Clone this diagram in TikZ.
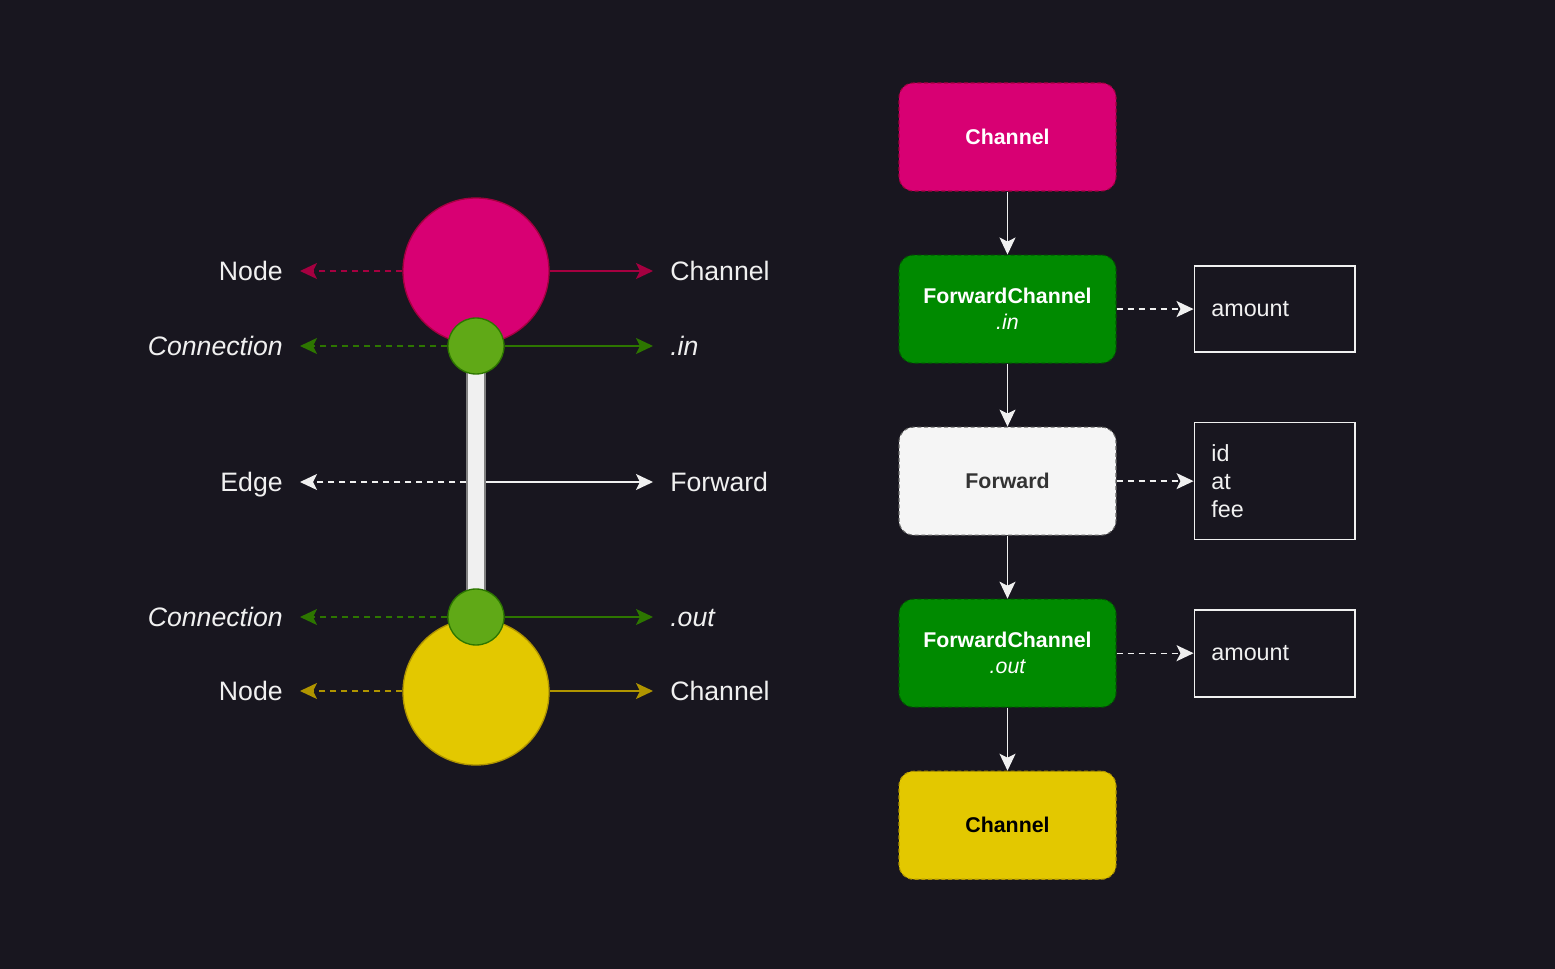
\documentclass[tikz,border=0pt]{standalone}
\usepackage{fontspec}
\setmainfont{Liberation Sans}
\usetikzlibrary{positioning,arrows.meta}
\definecolor{bg}{HTML}{18161F}
\definecolor{fg}{HTML}{F0F0F0}
\definecolor{pinkfill}{HTML}{D80073}
\definecolor{pinkline}{HTML}{A50040}
\definecolor{dotfill}{HTML}{60A917}
\definecolor{dotline}{HTML}{2D7600}
\definecolor{yelfill}{HTML}{E3C800}
\definecolor{yelline}{HTML}{B09500}
\definecolor{boxgreen}{HTML}{008A00}
\definecolor{boxgreenline}{HTML}{005700}
\definecolor{fwdfill}{HTML}{F5F5F5}
\definecolor{fwdline}{HTML}{666666}
\definecolor{fwdtext}{HTML}{333333}

\begin{document}
\begin{tikzpicture}[x=0.75pt,y=-0.75pt,node distance=47.25pt]
    \tikzstyle{blob}=[circle,draw,line width=1pt,inner sep=0,minimum size=109.5pt]
    \tikzstyle{dot}=[circle,draw=dotline,fill=dotfill,line width=1pt,inner sep=0,minimum size=42pt]
    \tikzstyle{lbl}=[inner xsep=12.75pt,inner ysep=0,text height=14.3pt,text depth=0pt,text=fg,font=\fontsize{20}{24}\selectfont]
    \tikzstyle{box}=[rectangle,draw,rounded corners=11pt,dash pattern=on 3pt off 2pt,line width=0.8pt,minimum width=162.75pt,minimum height=81pt,align=center,font=\bfseries\fontsize{16}{19.5}\selectfont]
    \tikzstyle{field}=[rectangle,draw=fg,line width=1.2pt,inner xsep=12.75pt,text width=95pt,align=left,text=fg,font=\fontsize{17.5}{21}\selectfont]
    \tikzstyle{link}=[-{Stealth[length=12.75pt,width=12pt,inset=3pt]},line width=1pt]
    \tikzstyle{hint}=[link,dash pattern=on 4.5pt off 3.75pt]
    \useasboundingbox (0,0) rectangle (1555,969);
    \fill[bg] (0,0) rectangle (1555,969);
    % left: graph view
    \node[draw=gray,fill=fg,line width=0.8pt,inner sep=0,minimum width=13.5pt,minimum height=198.75pt] (edge) at (476,481.5) {};
    \node[blob,fill=pinkfill,draw=pinkline] (src) at (476,271) {};
    \node[dot] (cin) at (476,346) {};
    \node[blob,fill=yelfill,draw=yelline] (dst) at (476,692) {};
    \node[dot] (cout) at (476,617) {};
    \node[lbl,anchor=east] (srcL) at (300,271) {Node};
    \node[lbl,anchor=east] (cinL) at (300,346) {\itshape Connection};
    \node[lbl,anchor=east] (edgeL) at (300,482) {Edge};
    \node[lbl,anchor=east] (coutL) at (300,617) {\itshape Connection};
    \node[lbl,anchor=east] (dstL) at (300,691) {Node};
    \node[lbl,anchor=west] (srcR) at (653,271) {Channel};
    \node[lbl,anchor=west] (cinR) at (653,346) {\itshape .in};
    \node[lbl,anchor=west] (edgeR) at (653,482) {Forward};
    \node[lbl,anchor=west] (coutR) at (653,617) {\itshape .out};
    \node[lbl,anchor=west] (dstR) at (653,691) {Channel};
    \draw[hint,draw=pinkline] (src) -- (srcL);
    \draw[link,draw=pinkline] (src) -- (srcR);
    \draw[hint,draw=dotline] (cin) -- (cinL);
    \draw[link,draw=dotline] (cin) -- (cinR);
    \draw[hint,draw=fg] (edge.west |- edgeL) -- (edgeL);
    \draw[link,draw=fg] (edge.east |- edgeR) -- (edgeR);
    \draw[hint,draw=dotline] (cout) -- (coutL);
    \draw[link,draw=dotline] (cout) -- (coutR);
    \draw[hint,draw=yelline] (dst.west |- dstL) -- (dstL);
    \draw[link,draw=yelline] (dst.east |- dstR) -- (dstR);
    % right: stored records
    \node[box,fill=pinkfill,draw=pinkline,text=white] (ch1) at (1007.5,137) {Channel};
    \node[box,fill=boxgreen,draw=boxgreenline,text=white] (fcin) [below=of ch1] {ForwardChannel\\{\mdseries\itshape .in}};
    \node[box,fill=fwdfill,draw=fwdline,text=fwdtext] (fwd) [below=of fcin] {Forward};
    \node[box,fill=boxgreen,draw=boxgreenline,text=white] (fcout) [below=of fwd] {ForwardChannel\\{\mdseries\itshape .out}};
    \node[box,fill=yelfill,draw=yelline,text=black] (ch2) [below=of fcout] {Channel};
    \node[field,minimum height=64.5pt] (amt1) [right=57.75pt of fcin] {amount};
    \node[field,minimum height=87.75pt] (attrs) [right=57.75pt of fwd] {id\\at\\fee};
    \node[field,minimum height=65.25pt] (amt2) [right=57.75pt of fcout] {amount};
    \draw[link,draw=fg] (ch1) -- (fcin);
    \draw[link,draw=fg] (fcin) -- (fwd);
    \draw[link,draw=fg] (fwd) -- (fcout);
    \draw[link,draw=fg] (fcout) -- (ch2);
    \draw[hint,draw=fg] (fcin) -- (amt1);
    \draw[hint,draw=fg] (fwd) -- (attrs);
    \draw[hint,draw=fg] (fcout) -- (amt2);
\end{tikzpicture}
\end{document}
